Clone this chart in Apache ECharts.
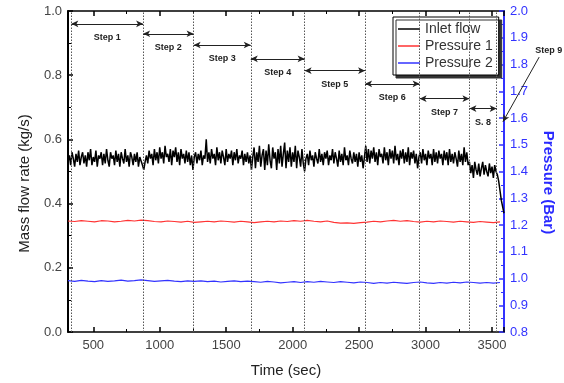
<!DOCTYPE html>
<html><head><meta charset="utf-8">
<script src="https://cdn.jsdelivr.net/npm/echarts@6/dist/echarts.min.js"></script>
<style>html,body{margin:0;padding:0;background:#fff}#c{width:564px;height:383px}</style>
</head><body><div id="c"></div>
<script>
// ---- data ----
const flowStart = 310, flowStep = 10;
const inletFlow = [
0.53,0.55,0.52,0.56,0.54,0.515,0.555,0.53,0.565,0.52,
0.545,0.56,0.525,0.55,0.515,0.56,0.535,0.57,0.52,0.545,
0.53,0.565,0.515,0.55,0.54,0.56,0.52,0.555,0.525,0.57,
0.535,0.515,0.56,0.54,0.55,0.52,0.565,0.53,0.555,0.515,
0.56,0.54,0.525,0.57,0.53,0.55,0.515,0.56,0.545,0.52,
0.555,0.53,0.56,0.515,0.545,0.55,0.52,0.505,0.53,0.55,
0.525,0.565,0.54,0.555,0.52,0.57,0.535,0.56,0.525,0.575,
0.54,0.56,0.525,0.58,0.545,0.555,0.53,0.57,0.52,0.565,
0.545,0.575,0.53,0.56,0.52,0.57,0.54,0.555,0.525,0.565,
0.53,0.56,0.52,0.55,0.505,0.545,0.56,0.525,0.555,0.535,
0.565,0.52,0.55,0.54,0.6,0.53,0.56,0.525,0.57,0.54,
0.555,0.52,0.575,0.535,0.56,0.525,0.565,0.545,0.52,0.57,
0.53,0.555,0.54,0.565,0.52,0.56,0.535,0.57,0.525,0.55,
0.54,0.565,0.52,0.555,0.53,0.56,0.525,0.55,0.505,0.545,
0.575,0.51,0.56,0.53,0.58,0.515,0.55,0.57,0.505,0.565,
0.52,0.585,0.535,0.51,0.575,0.54,0.56,0.505,0.57,0.525,
0.58,0.515,0.555,0.59,0.51,0.565,0.53,0.575,0.515,0.56,
0.53,0.58,0.51,0.565,0.545,0.515,0.57,0.525,0.50,0.54,
0.555,0.52,0.565,0.535,0.55,0.515,0.56,0.54,0.525,0.57,
0.53,0.555,0.52,0.56,0.54,0.565,0.52,0.55,0.535,0.57,
0.525,0.56,0.54,0.515,0.565,0.53,0.555,0.52,0.575,0.535,
0.55,0.52,0.565,0.54,0.525,0.56,0.53,0.555,0.515,0.56,
0.53,0.55,0.51,0.545,0.58,0.53,0.57,0.525,0.565,0.54,
0.575,0.53,0.56,0.52,0.57,0.545,0.555,0.525,0.575,0.535,
0.56,0.52,0.57,0.54,0.565,0.525,0.58,0.535,0.555,0.52,
0.565,0.54,0.57,0.525,0.56,0.53,0.575,0.52,0.56,0.54,
0.565,0.525,0.555,0.51,0.545,0.56,0.525,0.57,0.535,0.555,
0.52,0.565,0.54,0.555,0.52,0.57,0.53,0.56,0.525,0.565,
0.54,0.555,0.52,0.565,0.535,0.56,0.52,0.57,0.53,0.555,
0.525,0.56,0.54,0.515,0.565,0.53,0.555,0.52,0.575,0.53,
0.56,0.52,0.53,0.495,0.52,0.48,0.53,0.505,0.49,0.525,
0.485,0.51,0.53,0.49,0.52,0.5,0.485,0.525,0.495,0.515,
0.48,0.52,0.5,0.49,0.47,0.44,0.41,0.39,0.37
];
const presStart = 310, presStep = 50;
const pressure1 = [
1.215,1.213,1.216,1.214,1.212,1.216,1.215,1.212,1.214,1.217,1.215,1.218,1.216,1.213,1.212,1.215,1.213,1.211,1.214,1.210,
1.212,1.214,1.212,1.215,1.213,1.211,1.214,1.212,1.209,1.212,1.214,1.212,1.215,1.213,1.216,1.214,1.217,1.214,1.212,1.215,
1.210,1.207,1.208,1.206,1.209,1.211,1.214,1.212,1.215,1.217,1.214,1.216,1.213,1.211,1.214,1.212,1.215,1.213,1.211,1.214,
1.212,1.210,1.213,1.211,1.209,1.212
];
const pressure2 = [
0.992,0.989,0.993,0.990,0.988,0.992,0.989,0.991,0.994,0.990,0.992,0.995,0.992,0.989,0.991,0.993,0.990,0.988,0.991,0.989,
0.991,0.988,0.990,0.987,0.989,0.991,0.988,0.990,0.988,0.986,0.989,0.987,0.984,0.986,0.988,0.985,0.988,0.986,0.989,0.987,
0.985,0.988,0.986,0.984,0.987,0.985,0.982,0.985,0.983,0.986,0.984,0.982,0.985,0.987,0.984,0.982,0.985,0.983,0.986,0.984,
0.987,0.985,0.983,0.985,0.983,0.985
];
const stepBounds = [335, 875, 1255, 1685, 2090, 2545, 2955, 3330, 3535];
const stepNames = ['Step 1','Step 2','Step 3','Step 4','Step 5','Step 6','Step 7','S. 8'];
const arrowLevels = [0.960, 0.929, 0.894, 0.851, 0.814, 0.773, 0.727, 0.696];
const step9Name = 'Step 9';
const step9Target = [3582, 0.655];
const xMin = 310, xMax = 3590;

// ---- build ----
const flowData = inletFlow.map((v,i)=>[flowStart+flowStep*i, v]);
const p1Data = pressure1.map((v,i)=>[presStart+presStep*i, v]);
const p2Data = pressure2.map((v,i)=>[presStart+presStep*i, v]);

const font = 'Liberation Sans, Arial, sans-serif';
const arrowLines = stepNames.map((n,i)=>[
  {name:n, coord:[stepBounds[i], arrowLevels[i]]},
  {coord:[stepBounds[i+1], arrowLevels[i]]}
]);
arrowLines.push([
  {name:step9Name, x:'95.6%', y:'14.9%', symbol:'none',
   label:{position:'start', distance:3, offset:[8,1]}},
  {coord:step9Target, symbol:'arrow'}
]);

const chart = echarts.init(document.getElementById('c'));
chart.setOption({
  animation:false,
  textStyle:{fontFamily:font},
  grid:{left:68, right:59, top:11, bottom:50},
  legend:{
    orient:'vertical', left:393, top:17,
    data:['Inlet flow','Pressure 1','Pressure 2'],
    icon:'rect', itemWidth:22, itemHeight:1.5, itemGap:3,
    padding:[5,6,5,5],
    backgroundColor:'#fff', borderColor:'#000', borderWidth:1,
    shadowColor:'#333', shadowOffsetX:3, shadowOffsetY:3, shadowBlur:0,
    textStyle:{fontSize:14, color:'#333', fontFamily:font}
  },
  xAxis:[{
    type:'value', min:xMin, max:xMax, splitNumber:5,
    name:'Time (sec)', nameLocation:'middle', nameGap:31,
    nameTextStyle:{fontSize:15, color:'#222'},
    axisLine:{lineStyle:{color:'#000', width:1.5}},
    axisTick:{inside:true, length:5, lineStyle:{color:'#000', width:1.5}},
    minorTick:{show:true, splitNumber:2, length:3, lineStyle:{color:'#000'}},
    axisLabel:{fontSize:13, color:'#444', margin:7, formatter:v=> (v%500===0 ? String(v) : '')},
    splitLine:{show:false}
  },{
    type:'value', min:xMin, max:xMax, splitNumber:5, position:'top',
    axisLine:{lineStyle:{color:'#000', width:1.5}},
    axisTick:{inside:true, length:5, lineStyle:{color:'#000', width:1.5}},
    minorTick:{show:true, splitNumber:2, length:3, lineStyle:{color:'#000'}},
    axisLabel:{show:false}, splitLine:{show:false}
  }],
  yAxis:[{
    type:'value', min:0, max:1, interval:0.2, position:'left',
    name:'Mass flow rate (kg/s)', nameLocation:'middle', nameGap:36,
    nameTextStyle:{fontSize:15, color:'#222', padding:[0,24,0,0]},
    axisLine:{show:true, lineStyle:{color:'#000', width:2}},
    axisTick:{inside:true, length:5, lineStyle:{color:'#000', width:1.5}},
    minorTick:{show:true, splitNumber:2, length:3, lineStyle:{color:'#000'}},
    axisLabel:{fontSize:13, color:'#444', margin:6, formatter:v=>v.toFixed(1)},
    splitLine:{show:false}
  },{
    type:'value', min:0.8, max:2.0, interval:0.1, position:'right',
    name:'Pressure (Bar)', nameLocation:'middle', nameGap:37, nameRotate:-90,
    nameTextStyle:{fontSize:15, color:'#2a2aff', fontWeight:'bold', padding:[0,0,0,22]},
    axisLine:{show:true, lineStyle:{color:'#3333ff', width:2}},
    axisTick:{inside:true, length:5, lineStyle:{color:'#3333ff', width:1.5}},
    minorTick:{show:true, splitNumber:2, length:3, lineStyle:{color:'#3333ff'}},
    axisLabel:{fontSize:13, color:'#3333ff', margin:6, formatter:v=>v.toFixed(1)},
    splitLine:{show:false}
  }],
  series:[
    {name:'Inlet flow', type:'line', data:flowData, yAxisIndex:0, symbol:'none',
     lineStyle:{color:'#000', width:1.5}, itemStyle:{color:'#000'}, z:3},
    {name:'Pressure 1', type:'line', data:p1Data, yAxisIndex:1, symbol:'none',
     lineStyle:{color:'#ff3333', width:1.2}, itemStyle:{color:'#ff3333'}, z:2},
    {name:'Pressure 2', type:'line', data:p2Data, yAxisIndex:1, symbol:'none',
     lineStyle:{color:'#3333ff', width:1.2}, itemStyle:{color:'#3333ff'}, z:2},
    {name:'bounds', type:'line', data:[], yAxisIndex:0, silent:true, z:1,
     markLine:{silent:true, symbol:['none','none'], animation:false,
       lineStyle:{color:'#555', type:[1.5,1.5], width:1},
       label:{show:false},
       data:stepBounds.map(b=>({xAxis:b}))}
    },
    {name:'steps', type:'line', data:[], yAxisIndex:0, silent:true, clip:false, z:4,
     markLine:{silent:true, symbol:['arrow','arrow'], symbolSize:[5,7], animation:false,
       lineStyle:{color:'#222', type:'solid', width:1},
       label:{show:true, formatter:'{b}', position:'insideMiddleBottom', distance:9,
              fontSize:9, fontWeight:'bold', color:'#222', fontFamily:font},
       emphasis:{disabled:true},
       data:arrowLines}
    }
  ]
});
</script></body></html>
